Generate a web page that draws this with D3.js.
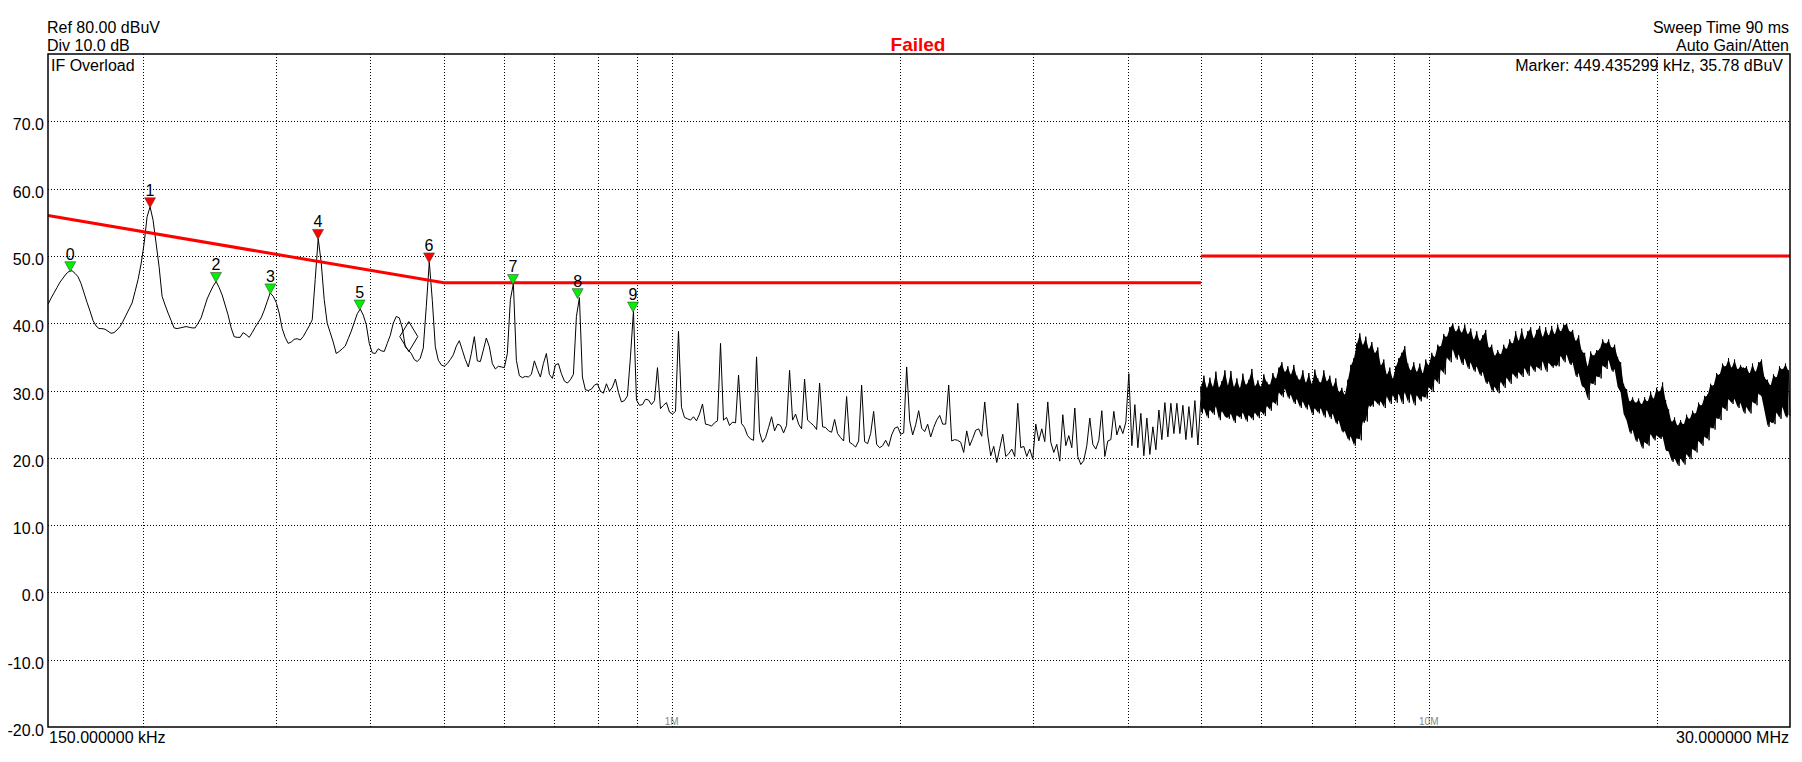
<!DOCTYPE html>
<html><head><meta charset="utf-8">
<script src="https://cdn.jsdelivr.net/npm/d3@7"></script>
<style>
body{margin:0;background:#fff;}
svg text{font-family:"Liberation Sans",Arial,sans-serif;}
</style></head><body>
<svg id="c" width="1802" height="762"></svg>
<script>
// ---- data ----
const yTicks = [70, 60, 50, 40, 30, 20, 10, 0, -10, -20];
const yGridLevels = [70, 60, 50, 40, 30, 20, 10, 0, -10];
const xGridKHz = [200,300,400,500,600,700,800,900,1000,2000,3000,4000,5000,6000,7000,8000,9000,10000,20000];
const xDecadeLabels = ["1M", "10M"];
const xDecadeKHz = [1000, 10000];
const startLabel = "150.000000 kHz", stopLabel = "30.000000 MHz";
const startKHz = 150, stopKHz = 30000;

const limit1KHz = [150, 500, 5000], limit1Db = [56, 46, 46];
const limit2KHz = [5000, 30000], limit2Db = [50, 50];

const markerIds = [0,1,2,3,4,5,6,7,8,9];
const markerKHz = [160.5, 204.6, 250, 295, 341, 387, 478, 617, 751, 889];
const markerDb  = [47.8, 57.3, 46.2, 44.5, 52.6, 42.1, 49.1, 45.9, 43.8, 41.8];
const deltaMarkerKHz = 449.435299, deltaMarkerDb = 35.78;

// sweep 150 kHz - 5 MHz (log spaced sweep points)
const traceLow = [
42.8,43.7,44.5,45.3,46.1,46.7,47.3,47.7,47.8,47.4,
46.9,45.9,44.5,43.1,41.8,40.4,39.6,39.2,39.2,39.1,
38.8,38.5,38.6,39.0,39.5,40.3,41.2,42.1,43.0,44.7,
46.5,48.8,51.8,55.8,57.3,55.3,51.9,48.4,44.0,42.7,
41.5,40.4,39.3,39.2,39.3,39.4,39.5,39.4,39.3,39.3,
40.0,40.8,42.2,43.6,44.6,45.5,46.2,45.3,44.2,42.7,
41.2,39.3,38.0,37.9,37.9,38.6,38.3,37.9,38.6,39.4,
40.1,40.8,41.9,43.2,44.5,44.0,43.1,41.5,39.2,37.9,
37.0,37.2,37.6,37.7,37.5,38.0,38.8,39.6,40.5,46.5,
52.6,49.0,43.5,40.0,38.6,37.2,35.5,35.8,36.2,36.6,
37.7,38.8,40.1,41.4,42.1,41.2,39.8,37.0,35.6,35.5,
36.2,35.9,35.8,37.0,38.2,40.0,41.0,40.8,39.3,36.5,
36.0,35.5,34.6,34.3,34.8,36.3,42.5,49.1,43.4,36.5,
34.5,33.8,33.6,34.0,34.6,35.3,36.6,37.4,36.0,34.6,
33.5,35.5,38.0,34.4,34.3,36.0,37.8,36.5,34.0,33.2,
33.6,33.5,33.4,35.5,43.5,45.9,34.5,32.2,31.9,32.1,
32.0,32.4,34.4,33.1,32.0,34.0,35.5,32.4,31.8,33.8,
34.0,32.5,31.4,31.1,31.6,32.4,41.0,43.8,32.0,30.1,
30.0,30.2,30.8,31.0,29.9,29.6,31.0,29.9,30.5,31.7,
29.7,28.3,28.5,29.2,35.0,41.8,28.6,27.8,27.9,28.7,
28.6,27.9,28.5,33.4,27.3,27.8,28.2,26.8,26.5,26.9,
38.8,27.5,26.0,25.8,25.6,26.1,25.5,26.5,28.0,25.0,
24.9,24.7,25.2,25.5,37.0,25.6,26.0,24.8,25.3,25.2,
32.3,25.1,24.5,23.3,22.8,22.6,35.0,23.8,22.3,23.0,
24.5,26.1,24.0,25.0,24.8,23.7,24.8,33.0,25.6,26.5,
25.0,24.3,31.7,25.6,25.2,24.8,24.2,31.1,24.6,24.5,
24.0,23.8,25.7,23.6,23.0,22.5,29.1,22.3,22.0,21.6,
22.5,30.8,22.4,22.1,23.6,26.9,22.0,21.5,21.8,22.6,
21.7,23.4,24.4,24.6,23.5,23.7,33.5,25.5,23.4,24.9,
27.0,24.4,23.9,25.0,23.1,24.5,25.6,26.3,25.0,25.0,
30.8,22.5,22.7,22.6,22.3,20.8,24.0,21.8,22.9,24.1,
24.3,23.2,28.3,23.4,20.3,21.7,19.3,21.4,23.5,20.2,
20.6,21.3,20.2,28.1,21.5,21.7,20.2,21.3,19.8,25.0,
22.5,24.3,22.4,28.3,22.3,20.8,22.0,19.5,26.4,21.8,
23.3,21.5,27.4,20.2,19.0,19.6,21.8,25.9,22.0,21.3,
22.6,27.0,20.2,22.5,22.7,26.9,23.4,24.8,23.6,25.3,
32.5,21.8,27.9,21.5,26.6,20.3,25.9,20.5,24.6,21.2,
27.1,22.7,28.2,23.1,28.1,23.6,28.1,23.6,27.8,22.7,
27.6,23.0,28.5,21.9,28.8
];
const lowStopKHz = 5000;

// sweep 5 MHz - 30 MHz, positive / negative peak per display bucket
const tracePeak = [
30.6,32.2,30.4,31.9,30.6,32.8,30.5,31.4,33.0,30.8,
32.9,30.6,31.8,30.4,32.5,30.9,31.6,33.2,30.7,31.5,
30.6,32.4,31.3,30.9,32.6,31.8,33.4,34.2,32.8,33.6,
32.4,33.8,32.2,31.6,33.0,31.2,32.6,31.0,33.1,31.8,
31.2,33.0,31.4,32.2,30.6,31.8,29.8,30.4,29.4,31.6,
33.8,34.8,37.0,38.5,36.8,38.0,36.2,37.2,35.6,36.4,
33.8,34.6,32.4,33.4,31.8,33.6,34.8,35.6,36.6,34.0,
33.0,34.2,32.8,34.0,32.6,34.6,33.8,35.6,35.0,36.8,
36.6,38.4,38.0,39.4,40.0,38.8,39.6,38.6,39.8,38.4,
39.2,37.6,38.8,37.4,38.2,39.0,36.4,36.8,35.2,36.0,
35.4,36.8,36.2,37.6,37.0,38.8,37.4,39.2,37.6,38.8,
39.4,37.8,39.0,39.6,38.0,39.4,38.2,39.6,38.4,39.8,
38.8,39.8,40.0,38.8,39.0,37.4,38.2,36.0,35.6,33.6,
35.8,35.2,36.0,36.2,37.6,37.0,37.6,36.4,36.8,35.0,
34.2,31.0,30.2,28.4,29.0,28.2,28.8,28.0,29.0,28.4,
29.8,28.8,30.4,29.8,31.2,28.6,27.2,25.4,26.0,24.8,
25.6,25.0,26.4,25.8,27.0,26.6,28.2,27.8,29.2,29.4,
31.0,30.8,32.6,32.4,34.0,33.6,34.8,33.4,34.6,33.2,
33.8,33.4,33.6,32.6,34.0,32.8,34.2,34.6,32.0,31.6,
30.8,32.4,32.0,33.6,33.2,34.0,33.0
];
const traceFloor = [
26.6,27.2,25.9,27.0,26.4,27.5,25.6,26.8,26.0,25.8,
26.4,25.2,26.2,25.8,26.6,25.4,26.2,25.6,26.6,25.9,
26.8,26.2,27.6,27.0,28.2,27.8,29.6,29.0,30.2,28.8,
29.2,28.0,28.6,27.4,28.2,27.2,27.8,26.4,27.2,26.6,
27.2,26.0,27.0,25.8,26.4,25.0,25.4,23.8,23.8,22.6,
23.0,21.8,22.8,22.6,25.2,25.4,27.6,27.6,28.4,27.8,
28.2,27.4,29.0,28.0,29.2,28.2,29.4,28.0,29.6,28.2,
29.4,27.8,29.2,28.4,29.0,28.8,30.4,29.8,31.6,31.0,
33.0,32.4,34.8,34.2,36.0,34.6,35.2,33.8,34.6,33.2,
34.0,32.8,33.4,32.2,32.6,31.0,31.2,29.8,30.4,29.6,
31.2,30.4,31.8,31.0,32.4,31.8,32.6,32.0,33.2,32.2,
33.6,32.8,33.4,33.0,34.2,32.8,34.0,33.4,33.6,33.6,
35.0,34.2,35.2,33.8,34.0,32.0,32.4,30.6,30.2,28.6,
31.0,30.8,32.0,31.8,33.6,33.2,34.4,32.8,33.0,30.4,
29.6,26.4,25.4,23.6,24.0,22.4,22.8,21.4,22.2,21.8,
23.4,22.6,23.2,22.8,23.0,21.0,20.8,19.4,19.8,18.8,
19.8,19.0,20.4,19.8,21.2,20.8,22.4,21.8,23.0,22.6,
24.4,24.2,25.8,25.6,27.4,27.0,28.6,28.0,28.6,27.4,
28.0,26.6,27.4,26.6,28.2,27.8,29.4,29.0,26.8,24.6,
25.2,25.0,26.6,25.8,27.4,26.0,26.2
];

// ---- chart ----
const svg = d3.select("#c");
const L = 48, R = 1790, T = 54, B = 727;
const x = d3.scaleLog().domain([startKHz, stopKHz]).range([L, R]);
const y = d3.scaleLinear().domain([-20, 80]).range([B, T]);
const snap = v => Math.round(v) + 0.5;

// grid
const grid = svg.append("g").attr("stroke", "#000").attr("stroke-width", 1).attr("stroke-dasharray", "1,2");
grid.selectAll("line.h").data(yGridLevels).join("line")
  .attr("x1", L).attr("x2", R).attr("y1", d => snap(y(d))).attr("y2", d => snap(y(d)));
grid.selectAll("line.v").data(xGridKHz).join("line")
  .attr("x1", d => snap(x(d))).attr("x2", d => snap(x(d))).attr("y1", T).attr("y2", B);

// decade labels
svg.selectAll("text.dec").data(xDecadeLabels).join("text")
  .attr("x", (d, i) => x(xDecadeKHz[i])).attr("y", B - 2)
  .attr("text-anchor", "middle").attr("font-size", 10).attr("fill", "#888").text(d => d);

// trace
const lowPts = traceLow.map((v, i) => [startKHz * Math.pow(lowStopKHz / startKHz, i / (traceLow.length - 1)), v]);
const nH = tracePeak.length * 2 - 1;
const highPts = [];
const bandPts = [];
tracePeak.forEach((v, k) => {
  const f1 = lowStopKHz * Math.pow(stopKHz / lowStopKHz, (2 * k) / nH);
  const f2 = lowStopKHz * Math.pow(stopKHz / lowStopKHz, (2 * k + 1) / nH);
  highPts.push([f1, v]);
  highPts.push([f2, traceFloor[k]]);
  bandPts.push([f1, v, traceFloor[k]]);
});
const line = d3.line().x(d => x(d[0])).y(d => y(d[1]));
// dense band (positive / negative peak envelope)
svg.append("path").datum(bandPts)
  .attr("d", d3.area().x(d => x(d[0])).y0(d => y(d[2]) - 1).y1(d => y(d[1]) + 1))
  .attr("fill", "#000");
svg.append("path").datum(lowPts.concat(highPts)).attr("d", line)
  .attr("fill", "none").attr("stroke", "#000").attr("stroke-width", 1);

// limit lines
[[limit1KHz, limit1Db], [limit2KHz, limit2Db]].forEach(([fs, ls]) => {
  svg.append("path").datum(fs.map((f, i) => [f, ls[i]])).attr("d", line)
    .attr("fill", "none").attr("stroke", "#ff0000").attr("stroke-width", 3);
});
function limitAt(f) {
  if (f >= 5000) return 50;
  if (f >= 500) return 46;
  return 56 - 10 * Math.log10(f / 150) / Math.log10(500 / 150);
}

// markers
const mk = svg.append("g");
markerIds.forEach((id, i) => {
  const mx = x(markerKHz[i]), my = y(markerDb[i]) + 1;
  const col = markerDb[i] > limitAt(markerKHz[i]) ? "#ff0000" : "#00f000";
  mk.append("path").attr("d", `M${mx - 5.5},${my - 10}L${mx + 5.5},${my - 10}L${mx},${my}Z`)
    .attr("fill", col).attr("stroke", "#444").attr("stroke-width", 0.6);
  mk.append("text").attr("x", mx).attr("y", my - 12).attr("text-anchor", "middle")
    .attr("font-size", 16).attr("fill", "#000").text(id);
});
// active marker diamond
{
  const dx = x(deltaMarkerKHz), dy = y(deltaMarkerDb);
  svg.append("path").attr("d", `M${dx},${dy}L${dx + 9},${dy - 15}L${dx},${dy - 30}L${dx - 9},${dy - 15}Z`)
    .attr("fill", "none").attr("stroke", "#000").attr("stroke-width", 1);
}

// frame
svg.append("rect").attr("x", L).attr("y", T).attr("width", R - L).attr("height", B - T)
  .attr("fill", "none").attr("stroke", "#000").attr("stroke-width", 1.5);

// y labels
svg.selectAll("text.yl").data(yTicks).join("text")
  .attr("x", 44).attr("y", d => y(d) + 9).attr("text-anchor", "end")
  .attr("font-size", 16).attr("fill", "#000").text(d => d.toFixed(1));

// text annotations
const txt = (s, tx, ty, anchor, opts = {}) => svg.append("text").attr("x", tx).attr("y", ty)
  .attr("text-anchor", anchor).attr("font-size", opts.size || 16).attr("fill", opts.fill || "#000")
  .attr("font-weight", opts.weight || "normal").text(s);
txt("Ref 80.00 dBuV", 47, 33, "start");
txt("Div 10.0 dB", 47, 51, "start");
txt("Failed", 918, 51, "middle", {fill: "#ff0000", weight: "bold", size: 19});
txt("Sweep Time 90 ms", 1789, 33, "end");
txt("Auto Gain/Atten", 1789, 51, "end");
txt("IF Overload", 51, 71, "start");
txt("Marker: 449.435299 kHz, 35.78 dBuV", 1783, 71, "end");
txt(startLabel, 49, 743, "start");
txt(stopLabel, 1789, 743, "end");
</script></body></html>
